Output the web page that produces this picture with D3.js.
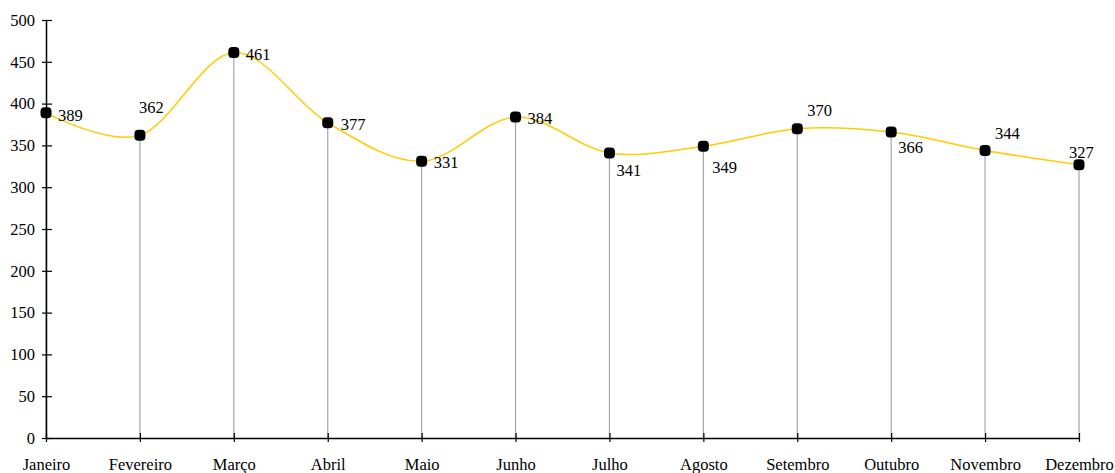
<!DOCTYPE html>
<html>
<head>
<meta charset="utf-8">
<script src="https://cdn.jsdelivr.net/npm/d3@7"></script>
<style>
  body { margin: 0; background: #fff; }
  text { font-family: "Liberation Serif", "Times New Roman", serif; fill: #000; }
</style>
</head>
<body>
<div id="chart"></div>
<script>
// Monthly values
var months = ["Janeiro", "Fevereiro", "Março", "Abril", "Maio", "Junho",
              "Julho", "Agosto", "Setembro", "Outubro", "Novembro", "Dezembro"];
var values = [389, 362, 461, 377, 331, 384, 341, 349, 370, 366, 344, 327];
var yTicks = [0, 50, 100, 150, 200, 250, 300, 350, 400, 450, 500];
// label placement relative to each point (dx, dy)
var labelOffsets = [[12, 8], [-1, -22], [12, 7], [13, 7], [12, 7], [12, 7],
                    [7, 23], [9, 27], [10, -13], [7, 21], [10, -11], [-10, -7]];

var W = 1115, H = 473;
var margin = { top: 20, left: 46, right: 36, bottom: 35 };
var width = W - margin.left - margin.right;
var height = H - margin.top - margin.bottom;

var svg = d3.select("#chart").append("svg")
    .attr("width", W)
    .attr("height", H);

var g = svg.append("g")
    .attr("transform", "translate(" + margin.left + "," + margin.top + ")");

var x = d3.scalePoint()
    .domain(months)
    .range([0, width]);

var y = d3.scaleLinear()
    .domain([0, 500])
    .range([height, 0]);

// drop lines
g.selectAll(".drop")
  .data(values)
  .enter().append("line")
    .attr("class", "drop")
    .attr("x1", function(d, i) { return x(months[i]); })
    .attr("x2", function(d, i) { return x(months[i]); })
    .attr("y1", function(d) { return y(d); })
    .attr("y2", y(0))
    .attr("stroke", "#a6a6a6")
    .attr("stroke-width", 1.2);

// y axis
var yAxis = d3.axisLeft(y).tickValues(yTicks).tickSize(0).tickPadding(11);
var ya = g.append("g").call(yAxis);
ya.select(".domain").attr("stroke", "#000").attr("stroke-width", 1.5);
ya.selectAll(".tick line").attr("x1", -4).attr("x2", 6).attr("stroke", "#000").attr("stroke-width", 1.2);
ya.selectAll(".tick text").style("font-size", "16.5px").style("font-family", "Liberation Serif");

// x axis
var xAxis = d3.axisBottom(x).tickSize(0).tickPadding(20);
var xa = g.append("g").attr("transform", "translate(0," + height + ")").call(xAxis);
xa.select(".domain").attr("stroke", "#000").attr("stroke-width", 1.5);
xa.selectAll(".tick line").attr("y1", -5).attr("y2", 4).attr("stroke", "#000").attr("stroke-width", 1.2);
xa.selectAll(".tick text").style("font-size", "16.5px").style("font-family", "Liberation Serif");

// smoothed line
var line = d3.line()
    .x(function(d, i) { return x(months[i]); })
    .y(function(d) { return y(d); })
    .curve(d3.curveCardinal.tension(0));

g.append("path")
    .datum(values)
    .attr("fill", "none")
    .attr("stroke", "#ffcc00")
    .attr("stroke-width", 1.5)
    .attr("d", line);

// markers
g.selectAll(".marker")
  .data(values)
  .enter().append("rect")
    .attr("class", "marker")
    .attr("x", function(d, i) { return x(months[i]) - 5.5; })
    .attr("y", function(d) { return y(d) - 5.5; })
    .attr("width", 11)
    .attr("height", 11)
    .attr("rx", 4)
    .attr("fill", "#000");

// value labels
g.selectAll(".vlabel")
  .data(values)
  .enter().append("text")
    .attr("class", "vlabel")
    .attr("x", function(d, i) { return x(months[i]) + labelOffsets[i][0]; })
    .attr("y", function(d, i) { return y(d) + labelOffsets[i][1]; })
    .style("font-size", "16.5px")
    .text(function(d) { return d; });
</script>
</body>
</html>
